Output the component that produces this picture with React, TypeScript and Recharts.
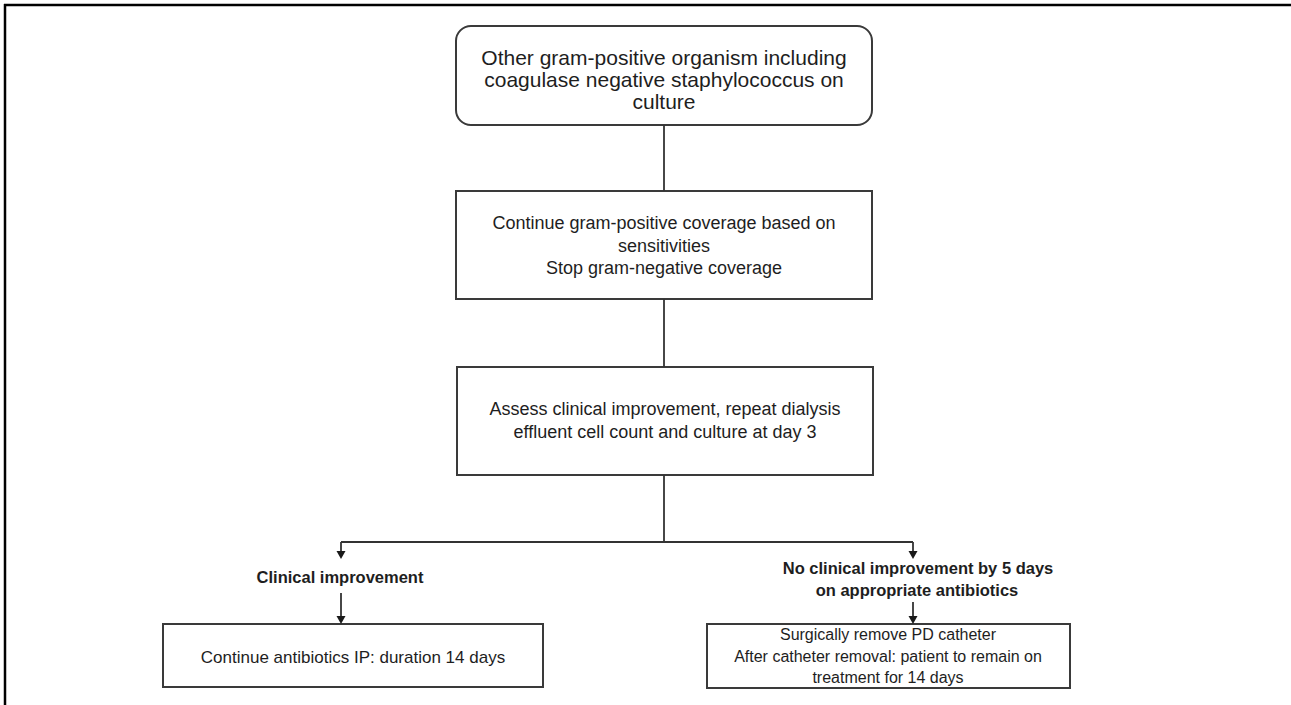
import React from 'react';
import { ComposedChart, XAxis, YAxis, ReferenceArea, ReferenceLine, Scatter } from 'recharts';

const W = 1291;
const H = 705;

// Flowchart nodes in chart data coordinates
const boxes = [
  { id: 'organism', x1: 456, x2: 872, y1: 26, y2: 125, kind: 'start' },
  { id: 'coverage', x1: 456, x2: 872, y1: 191, y2: 299, kind: 'step' },
  { id: 'assess', x1: 457, x2: 873, y1: 367, y2: 475, kind: 'step' },
  { id: 'continue', x1: 163, x2: 543, y1: 624, y2: 687, kind: 'step' },
  { id: 'remove', x1: 707, x2: 1070, y1: 624, y2: 688, kind: 'step' },
];

const textLines = [
  { x: 664, y: 58, text: 'Other gram-positive organism including', kind: 'title' },
  { x: 664, y: 80, text: 'coagulase negative staphylococcus on', kind: 'title' },
  { x: 664, y: 102, text: 'culture', kind: 'title' },
  { x: 664, y: 223, text: 'Continue gram-positive coverage based on', kind: 'body' },
  { x: 664, y: 246, text: 'sensitivities', kind: 'body' },
  { x: 664, y: 268, text: 'Stop gram-negative coverage', kind: 'body' },
  { x: 665, y: 409, text: 'Assess clinical improvement, repeat dialysis', kind: 'body' },
  { x: 665, y: 432, text: 'effluent cell count and culture at day 3', kind: 'body' },
  { x: 340, y: 577, text: 'Clinical improvement', kind: 'decision' },
  { x: 918, y: 568, text: 'No clinical improvement by 5 days', kind: 'decision' },
  { x: 917, y: 590, text: 'on appropriate antibiotics', kind: 'decision' },
  { x: 353, y: 657, text: 'Continue antibiotics IP: duration 14 days', kind: 'outcome' },
  { x: 888, y: 634, text: 'Surgically remove PD catheter', kind: 'outcomeSmall' },
  { x: 888, y: 656, text: 'After catheter removal: patient to remain on', kind: 'outcomeSmall' },
  { x: 888, y: 677, text: 'treatment for 14 days', kind: 'outcomeSmall' },
];

const connectors = [
  [{ x: 664, y: 125 }, { x: 664, y: 191 }],
  [{ x: 664, y: 299 }, { x: 664, y: 367 }],
  [{ x: 664, y: 475 }, { x: 664, y: 542 }],
  [{ x: 341, y: 542 }, { x: 913, y: 542 }],
  [{ x: 341, y: 542 }, { x: 341, y: 553 }],
  [{ x: 913, y: 542 }, { x: 913, y: 553 }],
  [{ x: 341, y: 593 }, { x: 341, y: 617 }],
  [{ x: 913, y: 602 }, { x: 913, y: 617 }],
];

const arrowTips = [
  { x: 341, y: 559 },
  { x: 913, y: 559 },
  { x: 341, y: 624 },
  { x: 913, y: 624 },
];

const frame = [
  [{ x: 4, y: 5 }, { x: W, y: 5 }],
  [{ x: 5, y: 4 }, { x: 5, y: H }],
];

const FONT = '"Liberation Sans", Arial, Helvetica, sans-serif';
const textStyles: Record<string, { size: number; weight: number }> = {
  title: { size: 21, weight: 400 },
  body: { size: 18, weight: 400 },
  decision: { size: 16.5, weight: 700 },
  outcome: { size: 17, weight: 400 },
  outcomeSmall: { size: 16, weight: 400 },
};

const BOX_STROKE = '#3a3a3a';

const renderText = (props: any) => {
  const { cx, cy, payload } = props;
  const st = textStyles[payload.kind];
  return (
    <text
      x={cx}
      y={cy}
      dy="0.35em"
      textAnchor="middle"
      fontFamily={FONT}
      fontSize={st.size}
      fontWeight={st.weight}
      fill="#1e1e1e"
    >
      {payload.text}
    </text>
  );
};

const renderArrow = (props: any) => {
  const { cx, cy } = props;
  return <path d={`M${cx - 4.5},${cy - 8} L${cx + 4.5},${cy - 8} L${cx},${cy} Z`} fill="#1a1a1a" />;
};

const makeBoxShape = (kind: string) => (p: any) => (
  <rect
    x={p.x}
    y={p.y}
    width={p.width}
    height={p.height}
    rx={kind === 'start' ? 15 : 0}
    ry={kind === 'start' ? 15 : 0}
    fill="#ffffff"
    stroke={BOX_STROKE}
    strokeWidth={2}
  />
);

export default function App() {
  return (
    <div style={{ position: 'absolute', left: 0, top: 0, width: W, height: H, background: '#fff' }}>
      <ComposedChart width={W} height={H} margin={{ top: 0, right: 0, bottom: 0, left: 0 }}>
        <XAxis type="number" dataKey="x" domain={[0, W]} hide allowDataOverflow />
        <YAxis type="number" dataKey="y" domain={[0, H]} reversed hide allowDataOverflow />
        {frame.map((seg, i) => (
          <ReferenceLine key={`f${i}`} segment={seg} stroke="#000" strokeWidth={2.5} ifOverflow="visible" />
        ))}
        {connectors.map((seg, i) => (
          <ReferenceLine key={`c${i}`} segment={seg} stroke="#333" strokeWidth={1.8} ifOverflow="visible" />
        ))}
        {boxes.map((b) => (
          <ReferenceArea
            key={b.id}
            x1={b.x1}
            x2={b.x2}
            y1={b.y1}
            y2={b.y2}
            ifOverflow="visible"
            shape={makeBoxShape(b.kind)}
          />
        ))}
        <Scatter data={arrowTips} shape={renderArrow} isAnimationActive={false} />
        <Scatter data={textLines} shape={renderText} isAnimationActive={false} />
      </ComposedChart>
    </div>
  );
}
